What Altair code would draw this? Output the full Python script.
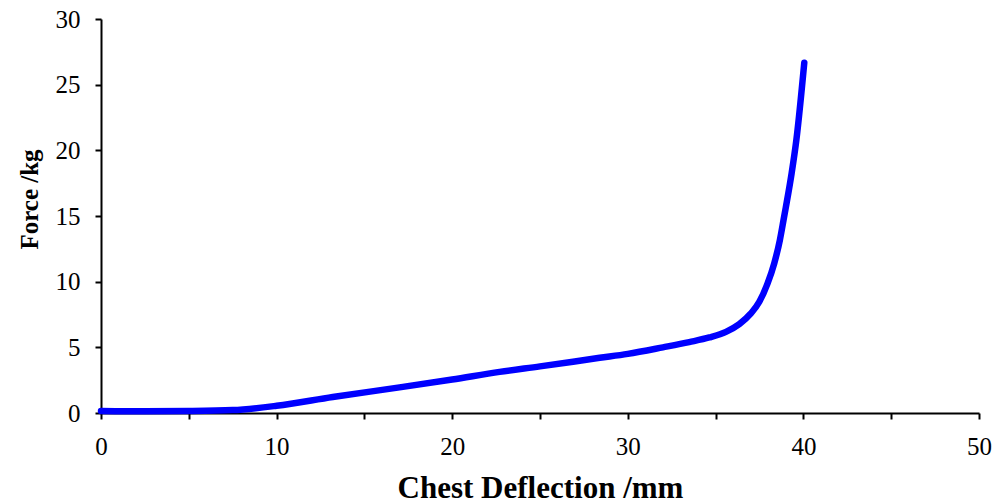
import altair as alt
import pandas as pd

# Chest deflection (mm) vs force (kg)
deflection = [0, 2.5, 5, 7.5, 10, 13.2, 17, 20, 22.7, 25, 28.4, 30, 32.0, 33.5,
              34.64, 35.59, 36.35, 37.01, 37.49, 37.96, 38.34, 38.66, 38.87,
              39.0, 39.33, 39.6, 40.05]
force = [0.15, 0.13, 0.15, 0.22, 0.55, 1.22, 1.95, 2.55, 3.13, 3.55, 4.2, 4.5,
         5.0, 5.4, 5.75, 6.18, 6.77, 7.58, 8.47, 9.87, 11.4, 13.17, 14.7,
         15.67, 18.26, 20.8, 26.67]

x_ticks = [0, 5, 10, 15, 20, 25, 30, 35, 40, 45, 50]
y_ticks = [0, 5, 10, 15, 20, 25, 30]

df = pd.DataFrame({"x": deflection, "y": force})

FONT = "Liberation Serif"

chart = alt.Chart(df).mark_line(
    color="#0000FF", strokeWidth=6.5, strokeCap="round", strokeJoin="round",
    interpolate="monotone"
).encode(
    x=alt.X("x:Q", scale=alt.Scale(domain=[0, 50], nice=False, zero=False),
            axis=alt.Axis(
                values=x_ticks, grid=False, title="Chest Deflection /mm",
                labelExpr="datum.value % 10 == 0 ? datum.label : ''",
                domainColor="black", domainWidth=2, tickColor="black", tickWidth=2,
                tickSize=6, labelFont=FONT, labelFontSize=25, labelColor="black",
                labelBaseline="alphabetic", labelPadding=35, labelFlush=False,
                labelOverlap=False,
                titleFont=FONT, titleFontSize=31, titleFontWeight="bold",
                titleColor="black", titleBaseline="alphabetic", titleY=84)),
    y=alt.Y("y:Q", scale=alt.Scale(domain=[0, 30], nice=False, zero=False),
            axis=alt.Axis(
                values=y_ticks, grid=False, title="Force /kg",
                domainColor="black", domainWidth=2, tickColor="black", tickWidth=2,
                tickSize=6, labelFont=FONT, labelFontSize=25, labelColor="black",
                labelPadding=15, labelFlush=False, labelOverlap=False,
                titleFont=FONT, titleFontSize=25, titleFontWeight="bold",
                titleColor="black", titleAngle=270, titleAlign="center",
                titleBaseline="alphabetic", titleX=-64, titleY=180)),
).properties(
    width=878, height=394,
    autosize=alt.AutoSizeParams(type="none"),
    padding={"left": 93, "top": 11, "right": 13, "bottom": 92},
).configure_view(stroke=None)

chart.save("out.html", embed_options={"renderer": "svg", "actions": False})
